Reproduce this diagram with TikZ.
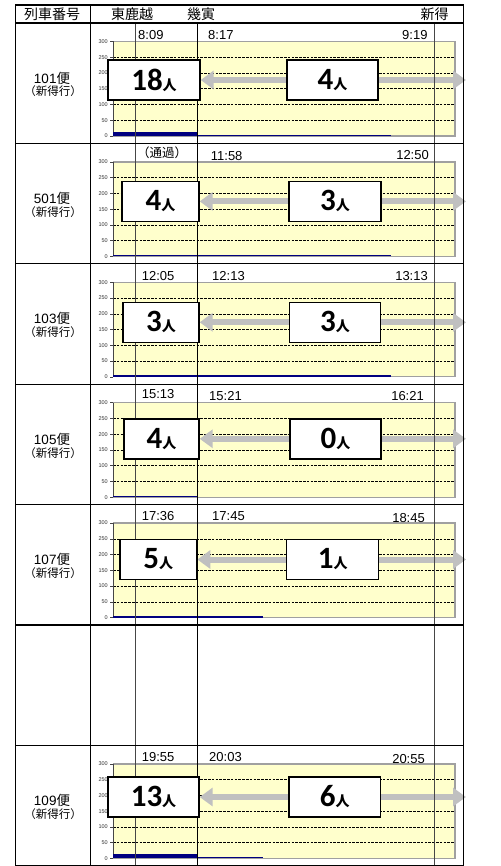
\documentclass[tikz,border=0pt]{standalone}
\usepackage{fontspec}
\setmainfont{Liberation Sans}
\newfontfamily\cjk{Noto Sans CJK JP}
\newfontfamily\numf{Carlito}
\usetikzlibrary{arrows.meta}
\definecolor{plotyellow}{RGB}{255,255,204}
\definecolor{framegray}{RGB}{160,160,160}
\definecolor{arrowgray}{RGB}{192,192,192}
\definecolor{barblue}{RGB}{0,0,128}
\definecolor{linegray}{RGB}{70,70,70}
\tikzset{
  tableline/.style={black, line width=1.1pt},
  vlinegray/.style={linegray, line width=1pt},
  vlineblack/.style={black, line width=1pt},
  gridline/.style={black, line width=0.55pt, dash pattern=on 2.5pt off 1.3pt},
  framel/.style={framegray, line width=1.3pt},
  axisline/.style={linegray, line width=1pt},
  ticklabel/.style={font=\fontsize{5.5}{5.5}\selectfont, anchor=east, inner sep=0pt, text=black!80},
  timelabel/.style={font=\fontsize{13}{13}\selectfont, inner sep=0pt},
  headtext/.style={font=\cjk\fontsize{14}{14}\selectfont, inner sep=0pt},
  numbox/.style={draw=black, fill=white, line width=1.4pt, inner sep=0pt, minimum height=40pt},
  grayarrow/.style={arrowgray, line width=6pt},
  barthick/.style={barblue, line width=4pt},
  barthin/.style={barblue, line width=1.4pt},
}
\newcommand\chartbg[2]{%
  \fill[plotyellow] (113,#1+18.5) rectangle (455,#1+113);
  \foreach \k in {1,...,5} \draw[gridline] (113,{#1+113-15.75*\k}) -- (455,{#1+113-15.75*\k});
  \foreach \k in {0,...,6} \draw[axisline, line width=0.6pt] (110,{#1+113-15.75*\k}) -- (113,{#1+113-15.75*\k});
  \draw[framel] (113,#1+18.5) -- (455,#1+18.5) -- (455,#1+113) -- (113,#1+113);
  \draw[axisline] (113,#1+18.5) -- (113,#1+113);
  \foreach \v [count=\k from 0] in {0,50,...,300} \node[ticklabel] (tk#2\k) at (108,{#1+113-15.75*\k}) {\v};
}
\newcommand\num[1]{{\numf\bfseries\fontsize{31}{31}\selectfont #1}{\cjk\bfseries\fontsize{14}{14}\selectfont 人}}
\newcommand\rowlabel[3]{%
  \node[inner sep=0pt, font=\fontsize{13.5}{13.5}\selectfont] (rl#3) at (52,#1+55) {#2{\cjk 便}};
  \node[inner sep=0pt, font=\cjk\fontsize{11.5}{11.5}\selectfont] (rd#3) at (53,#1+68.5) {（新得行）};
}
\begin{document}
\begin{tikzpicture}[x=1pt,y=-1pt]
\useasboundingbox (0,0) rectangle (500,866);
% ---- charts ----
\chartbg{23}{a}
\chartbg{143.4}{b}
\chartbg{263.8}{c}
\chartbg{384.2}{d}
\chartbg{504.6}{e}
\chartbg{745.4}{f}
% ---- blue bars ----
\draw[barthick] (113,23+111) -- (197.7,23+111);
\draw[barthin] (197.7,23+112.3) -- (391,23+112.3);
\draw[barthin] (113,143.4+112.3) -- (391,143.4+112.3);
\draw[barthin] (113,263.8+112.3) -- (391,263.8+112.3);
\draw[barthin] (113,384.2+112.3) -- (198,384.2+112.3);
\draw[barthin] (113,504.6+112.3) -- (263,504.6+112.3);
\draw[barthick] (113,745.4+111) -- (198,745.4+111);
\draw[barthin] (198,745.4+112.3) -- (263,745.4+112.3);
% ---- coordinates of arrow tips ----
\coordinate (ea) at (466,80);
\coordinate (eb) at (466,201.4);
\coordinate (ec) at (466,322.3);
\coordinate (ed) at (466,438.8);
\coordinate (ee) at (466,559.5);
\coordinate (ef) at (466,797);
% ---- boxes (defined first for arrows, drawn later on top) ----
\path (154,80) node[numbox, minimum width=92pt] (La) {\num{18}}
      (332.5,80) node[numbox, minimum width=91pt] (Ra) {\num{4}};
\path (160.5,201.4) node[numbox, minimum width=77pt] (Lb) {\num{4}}
      (335,201.4) node[numbox, minimum width=92pt] (Rb) {\num{3}};
\path (161,322.3) node[numbox, minimum width=76pt] (Lc) {\num{3}}
      (335,322.3) node[numbox, minimum width=91pt] (Rc) {\num{3}};
\path (161.5,438.8) node[numbox, minimum width=75pt] (Ld) {\num{4}}
      (335.5,438.8) node[numbox, minimum width=91pt] (Rd) {\num{0}};
\path (158.3,559.5) node[numbox, minimum width=76.7pt] (Le) {\num{5}}
      (332.7,559.5) node[numbox, minimum width=92pt] (Re) {\num{1}};
\path (153.5,797) node[numbox, minimum width=91pt] (Lf) {\num{13}}
      (334.8,797) node[numbox, minimum width=91.7pt] (Rf) {\num{6}};
% ---- arrows ----
\foreach \r in {a,b,c,d,e,f}{
  \draw[grayarrow, {Triangle[length=13pt,width=18pt]}-] (L\r.east) -- (R\r.west);
  \draw[grayarrow, -{Triangle[length=13pt,width=18pt]}] (R\r.east) -- (e\r);
}
% ---- vertical time lines ----
\draw[vlinegray] (135.7,23) -- (135.7,865.3);
\draw[vlineblack] (197.7,23) -- (197.7,865.3);
\draw[vlinegray] (434,23) -- (434,865.3);
% ---- redraw boxes on top ----
\path (154,80) node[numbox, minimum width=92pt] {\num{18}}
      (332.5,80) node[numbox, minimum width=91pt] {\num{4}};
\path (160.5,201.4) node[numbox, minimum width=77pt] {\num{4}}
      (335,201.4) node[numbox, minimum width=92pt] {\num{3}};
\path (161,322.3) node[numbox, minimum width=76pt] {\num{3}}
      (335,322.3) node[numbox, minimum width=91pt] {\num{3}};
\path (161.5,438.8) node[numbox, minimum width=75pt] {\num{4}}
      (335.5,438.8) node[numbox, minimum width=91pt] {\num{0}};
\path (158.3,559.5) node[numbox, minimum width=76.7pt] {\num{5}}
      (332.7,559.5) node[numbox, minimum width=92pt] {\num{1}};
\path (153.5,797) node[numbox, minimum width=91pt] {\num{13}}
      (334.8,797) node[numbox, minimum width=91.7pt] {\num{6}};
% ---- table ----
\draw[tableline] (15.7,5) rectangle (463.3,865.3);
\draw[tableline] (90.3,5) -- (90.3,865.3);
\foreach \y in {23,143.4,263.8,384.2,504.6,625,745.4} \draw[tableline] (15.7,\y) -- (463.3,\y);
% ---- header ----
\node[headtext] (h1) at (52,14.5) {列車番号};
\node[headtext] (h2) at (132,14.5) {東鹿越};
\node[headtext] (h3) at (201,14.5) {幾寅};
\node[headtext] (h4) at (434.5,14.5) {新得};
% ---- row labels ----
\rowlabel{23}{101}{a}
\rowlabel{143.4}{501}{b}
\rowlabel{263.8}{103}{c}
\rowlabel{384.2}{105}{d}
\rowlabel{504.6}{107}{e}
\rowlabel{745.4}{109}{f}
% ---- time labels ----
\node[timelabel, anchor=base west] (ta1) at (138,39.3) {8:09};
\node[timelabel, anchor=base west] (ta2) at (208,39.3) {8:17};
\node[timelabel, anchor=base east] (ta3) at (427.7,39.3) {9:19};
\node[inner sep=0pt, font=\cjk\fontsize{12.5}{12.5}\selectfont] (tb1) at (162,153) {（通過）};
\node[timelabel, anchor=base west] (tb2) at (210.7,160.7) {11:58};
\node[timelabel, anchor=base east] (tb3) at (429,160) {12:50};
\node[timelabel, anchor=base west] (tc1) at (141.7,280) {12:05};
\node[timelabel, anchor=base west] (tc2) at (212,280) {12:13};
\node[timelabel, anchor=base east] (tc3) at (428,280.5) {13:13};
\node[timelabel, anchor=base west] (td1) at (141.7,398.3) {15:13};
\node[timelabel, anchor=base west] (td2) at (209,400.7) {15:21};
\node[timelabel, anchor=base east] (td3) at (424,400.7) {16:21};
\node[timelabel, anchor=base west] (te1) at (141.7,520.7) {17:36};
\node[timelabel, anchor=base west] (te2) at (212,520.7) {17:45};
\node[timelabel, anchor=base east] (te3) at (425,522.7) {18:45};
\node[timelabel, anchor=base west] (tf1) at (141.7,761.7) {19:55};
\node[timelabel, anchor=base west] (tf2) at (209,761.7) {20:03};
\node[timelabel, anchor=base east] (tf3) at (425,763) {20:55};
\end{tikzpicture}
\end{document}
